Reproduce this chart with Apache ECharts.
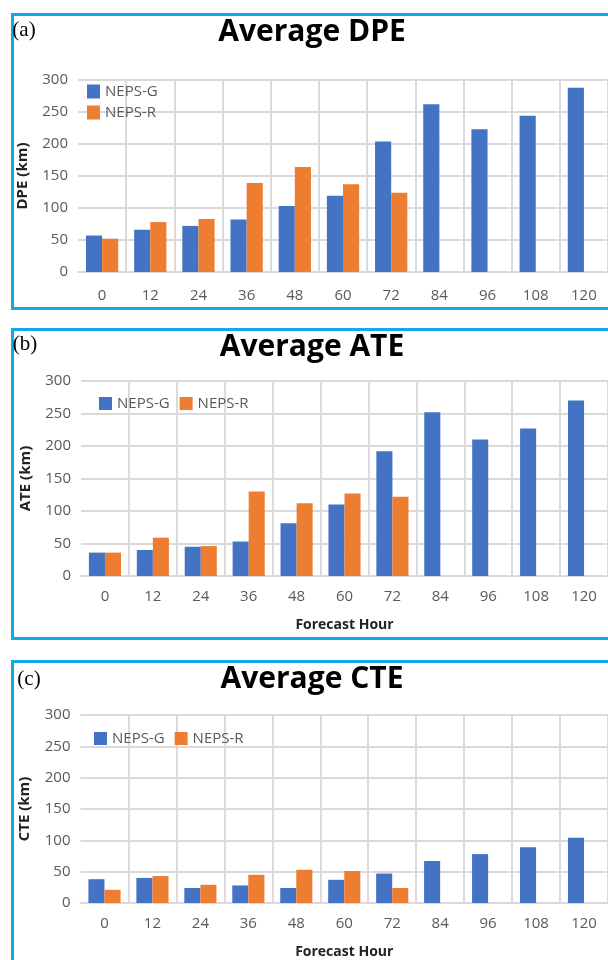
<!DOCTYPE html>
<html>
<head>
<meta charset="utf-8">
<script src="https://cdn.jsdelivr.net/npm/echarts@6/dist/echarts.min.js"></script>
<style>
  html, body { margin: 0; padding: 0; background: #ffffff; }
  #chart { width: 608px; height: 960px; }
</style>
</head>
<body>
<div id="chart"></div>
<script>
// Forecast hours on the category axis
const hours = ['0', '12', '24', '36', '48', '60', '72', '84', '96', '108', '120'];

// Average direct position error (km)
const dpeG = [57, 66, 72, 82, 103, 119, 204, 262, 223, 244, 288];
const dpeR = [52, 78, 83, 139, 164, 137, 124, null, null, null, null];

// Average along-track error (km)
const ateG = [36, 40, 45, 53, 81, 110, 192, 252, 210, 227, 270];
const ateR = [36, 59, 46, 130, 112, 127, 122, null, null, null, null];

// Average cross-track error (km)
const cteG = [38, 40, 24, 28, 24, 37, 47, 67, 78, 89, 104];
const cteR = [21, 43, 29, 45, 53, 51, 24, null, null, null, null];

// Value axis range shared by all panels
const yMin = 0, yMax = 300, yStep = 50;

const seriesNames = ['NEPS-G', 'NEPS-R'];
const colorG = '#4472C4';
const colorR = '#ED7D31';
const gridColor = '#dadada';
const labelColor = '#595959';
const frameColor = '#12a9e8';
const font = '"Open Sans", "Noto Sans", sans-serif';

const panels = [
  { grid: { left: 78, top: 80, width: 539, height: 192 }, yName: 'DPE (km)', xName: '', labelMargin: 16, g: dpeG, r: dpeR },
  { grid: { left: 81, top: 381, width: 534, height: 195 }, yName: 'ATE (km)', xName: 'Forecast Hour', labelMargin: 13, g: ateG, r: ateR },
  { grid: { left: 80.5, top: 715, width: 535, height: 188 }, yName: 'CTE (km)', xName: 'Forecast Hour', labelMargin: 13, g: cteG, r: cteR }
];

const grids = [], xAxes = [], yAxes = [], series = [];
panels.forEach((p, i) => {
  grids.push(p.grid);
  xAxes.push({
    type: 'category', gridIndex: i, data: hours,
    axisLine: { show: true, lineStyle: { color: gridColor, width: 2 } },
    axisTick: { show: false },
    axisLabel: { color: labelColor, fontFamily: font, fontSize: 15, margin: p.labelMargin, interval: 0 },
    splitLine: { show: true, interval: 0, showMinLine: false, lineStyle: { color: gridColor, width: 2 } },
    name: p.xName, nameLocation: 'middle', nameGap: 42,
    nameTextStyle: { color: '#222', fontFamily: font, fontWeight: 'bold', fontSize: 14 }
  });
  yAxes.push({
    type: 'value', gridIndex: i, min: yMin, max: yMax, interval: yStep,
    axisLine: { show: false }, axisTick: { show: false },
    axisLabel: { color: labelColor, fontFamily: font, fontSize: 15, margin: 10 },
    splitLine: { lineStyle: { color: gridColor, width: 2 } },
    name: p.yName, nameLocation: 'middle', nameGap: 48, nameRotate: 90,
    nameTextStyle: { color: '#222', fontFamily: font, fontWeight: 'bold', fontSize: 15 }
  });
  series.push({
    name: seriesNames[0], type: 'bar', xAxisIndex: i, yAxisIndex: i, data: p.g,
    itemStyle: { color: colorG }, barGap: '0%', barCategoryGap: '33%'
  });
  series.push({
    name: seriesNames[1], type: 'bar', xAxisIndex: i, yAxisIndex: i, data: p.r,
    itemStyle: { color: colorR }, barGap: '0%', barCategoryGap: '33%'
  });
});

const legendText = { color: labelColor, fontFamily: font, fontSize: 15 };
const legends = [
  { orient: 'vertical', left: 82, top: 79, itemWidth: 13, itemHeight: 14, itemGap: 6, icon: 'rect', data: seriesNames, textStyle: legendText },
  { orient: 'horizontal', left: 94, top: 391, itemWidth: 13, itemHeight: 13, itemGap: 10, icon: 'rect', data: seriesNames, textStyle: legendText },
  { orient: 'horizontal', left: 89, top: 726, itemWidth: 13, itemHeight: 13, itemGap: 10, icon: 'rect', data: seriesNames, textStyle: legendText }
];

// Panel frames, titles and letters
const titles = [
  { text: 'Average DPE', y: 32, tag: '(a)', tx: 24, ty: 30 },
  { text: 'Average ATE', y: 347, tag: '(b)', tx: 25, ty: 344 },
  { text: 'Average CTE', y: 679, tag: '(c)', tx: 29, ty: 679 }
];
const frames = [
  { y: 12, h: 294 },
  { y: 327, h: 309 },
  { y: 659, h: 400 }
];
const graphics = [];
frames.forEach(f => graphics.push({
  type: 'rect', left: 10, top: f.y, silent: true, z: -1,
  shape: { x: 0, y: 0, width: 640, height: f.h },
  style: { fill: 'none', stroke: frameColor, lineWidth: 3 }
}));
titles.forEach(t => {
  graphics.push({
    type: 'text', x: 312, y: t.y, silent: true,
    style: { text: t.text, fill: '#000', font: 'bold 30px ' + font, textAlign: 'center', textVerticalAlign: 'middle' }
  });
  graphics.push({
    type: 'text', x: t.tx, y: t.ty, silent: true,
    style: { text: t.tag, fill: '#000', font: '21px "Liberation Serif", "DejaVu Serif", serif', textAlign: 'center', textVerticalAlign: 'middle' }
  });
});

const chart = echarts.init(document.getElementById('chart'), null, { renderer: 'canvas' });
chart.setOption({
  animation: false,
  backgroundColor: '#ffffff',
  grid: grids,
  xAxis: xAxes,
  yAxis: yAxes,
  legend: legends,
  series: series,
  graphic: graphics
});
</script>
</body>
</html>
